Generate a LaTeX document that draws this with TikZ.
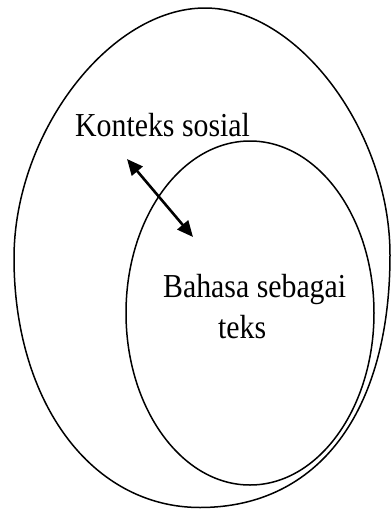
\documentclass[tikz,border=0pt]{standalone}
\usepackage{fontspec}
\usepackage{graphicx}
\setmainfont{Liberation Serif}
\usetikzlibrary{arrows.meta}
\tikzset{
  ring/.style={draw=black, line width=1.5pt},
  lbl/.style={anchor=base west, inner sep=0pt, font=\fontsize{33.5}{38}\selectfont},
  dblarrow/.style={line width=2.6pt, {Triangle[length=16pt,width=14pt]}-{Triangle[length=16pt,width=14pt]}}
}
\newcommand{\sq}[1]{\scalebox{0.89}[1]{#1}}
\begin{document}
\begin{tikzpicture}[x=1pt,y=-1pt]
\useasboundingbox (0,0) rectangle (391,509);
\coordinate (otop) at (205,8);
\coordinate (oright) at (390,255);
\coordinate (obottom) at (200,507.5);
\coordinate (oleft) at (14,258);
\draw[ring] (otop)
  .. controls (298,8) and (390,131.5) .. (oright)
  .. controls (390,411.9) and (318.4,507.5) .. (obottom)
  .. controls (92.1,507.5) and (14,403) .. (oleft)
  .. controls (14,133) and (109.5,8) .. (otop) -- cycle;
\draw[ring] (250,313) ellipse [x radius=124, y radius=172];
\node[lbl] (konteks) at (75,136) {\sq{Konteks sosial}};
\node[lbl] (bahasa) at (163,297) {\sq{Bahasa sebagai}};
\node[lbl] (teks) at (218,338) {\sq{teks}};
\coordinate (a1) at (127,159);
\coordinate (a2) at (193,237);
\draw[dblarrow] (a1) -- (a2);
\end{tikzpicture}
\end{document}
